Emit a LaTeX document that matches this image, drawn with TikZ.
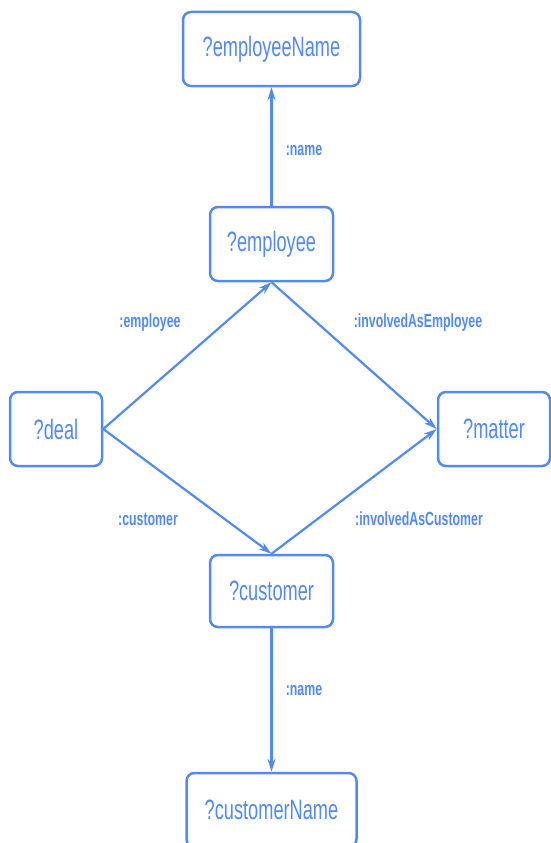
\documentclass[tikz,border=0pt]{standalone}
\usepackage{fontspec}
\setmainfont{Liberation Sans}[FakeStretch=0.65]
\usetikzlibrary{arrows.meta}
\definecolor{gblue}{RGB}{84,138,236}
\tikzset{
  vbox/.style={draw=gblue, line width=2.5pt, rounded corners=8pt, fill=white,
    text=gblue, font=\fontsize{28}{30}\selectfont, inner sep=0pt, anchor=center},
  lbl/.style={text=gblue, font=\bfseries\fontsize{19}{21}\selectfont, inner sep=1pt},
  conn/.style={draw=gblue, line width=2.2pt, -{Stealth[length=13pt,width=8pt]}}
}
\begin{document}
\begin{tikzpicture}[x=1pt,y=-1pt]
\useasboundingbox (0,0) rectangle (550,843);
\node[vbox, minimum width=177pt, minimum height=74pt] (ename) at (271.5,49) {?employeeName};
\node[vbox, minimum width=123pt, minimum height=74pt] (emp) at (271.5,244) {?employee};
\node[vbox, minimum width=92pt, minimum height=74pt] (deal) at (56,429) {?deal};
\node[vbox, minimum width=112pt, minimum height=74pt] (matter) at (494,429) {?matter};
\node[vbox, minimum width=123pt, minimum height=72pt] (cust) at (271.5,591) {?customer};
\node[vbox, minimum width=170pt, minimum height=74pt] (cname) at (271.5,810) {?customerName};
\draw[conn] (emp.north) -- (ename.south);
\draw[conn] (deal.east) -- (emp.south);
\draw[conn] (deal.east) -- (cust.north);
\draw[conn] (emp.south) -- (matter.west);
\draw[conn] (cust.north) -- (matter.west);
\draw[conn] (cust.south) -- (cname.north);
\node[lbl] (l1) at (304,150) {:name};
\node[lbl] (l2) at (150,323) {:employee};
\node[lbl] (l3) at (148,519) {:customer};
\node[lbl] (l4) at (418,323) {:involvedAsEmployee};
\node[lbl] (l5) at (419,519) {:involvedAsCustomer};
\node[lbl] (l6) at (304,690) {:name};
\end{tikzpicture}
\end{document}
